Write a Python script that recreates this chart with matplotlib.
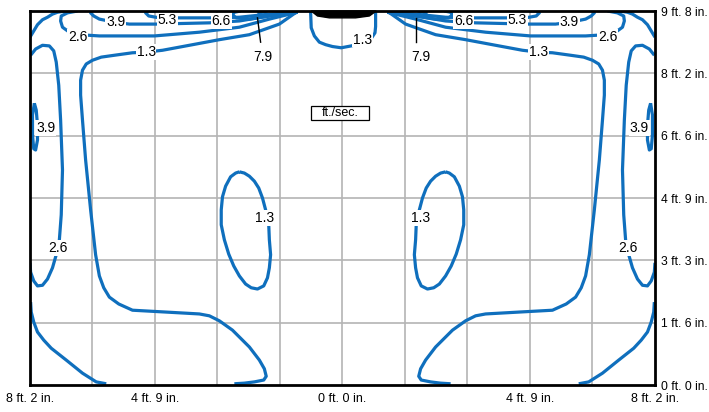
import numpy as np
import matplotlib.pyplot as plt
from matplotlib.patches import Rectangle

plt.rcParams['font.family'] = ['Liberation Sans', 'DejaVu Sans']

# tick labels (grid units: x -5..5, y 0..6)
x_ticks = [-5, -3, 0, 3, 5]
x_labels = ["8 ft. 2 in.", "4 ft. 9 in.", "0 ft. 0 in.", "4 ft. 9 in.", "8 ft. 2 in."]
y_ticks = [0, 1, 2, 3, 4, 5, 6]
y_labels = ["0 ft. 0 in.", "1 ft. 6 in.", "3 ft. 3 in.", "4 ft. 9 in.",
            "6 ft. 6 in.", "8 ft. 2 in.", "9 ft. 8 in."]

# contour lines of the left half (the right half is the mirror image)
corner_x = [-5.0, -4.94, -4.88, -4.8, -4.72, -4.64, -4.56, -4.43]
corner_y = [5.58, 5.68, 5.78, 5.86, 5.90, 5.95, 5.98, 6.0]

side26_x = [-4.99, -4.91, -4.8, -4.69, -4.62, -4.58, -4.54, -4.51, -4.48, -4.5,
            -4.53, -4.58, -4.64, -4.72, -4.8, -4.88, -4.94, -4.99, -5.0]
side26_y = [5.29, 5.39, 5.45, 5.44, 5.36, 5.18, 4.81, 4.25, 3.45, 2.73,
            2.33, 2.09, 1.88, 1.70, 1.60, 1.59, 1.67, 1.81, 1.96]

side39_x = [-4.93, -4.9, -4.88, -4.88, -4.91, -4.94, -4.96, -4.96, -4.93]
side39_y = [4.52, 4.41, 4.17, 3.93, 3.77, 3.79, 4.01, 4.33, 4.52]

big13_x = [-0.74, -1.01, -1.49, -1.97, -2.45, -2.88, -3.14, -3.36, -3.65, -3.86,
           -4.0, -4.10, -4.16, -4.19, -4.19, -4.16, -4.11, -4.03, -3.95, -3.89,
           -3.82, -3.73, -3.58, -3.36, -2.82, -2.29, -2.13, -1.97, -1.76, -1.49,
           -1.33, -1.25, -1.22, -1.26, -1.41, -1.57, -1.73]
big13_y = [5.98, 5.79, 5.62, 5.54, 5.45, 5.37, 5.34, 5.33, 5.29, 5.26,
           5.21, 5.15, 5.05, 4.89, 4.65, 4.25, 3.61, 2.81, 2.09, 1.75,
           1.56, 1.41, 1.30, 1.20, 1.17, 1.14, 1.11, 1.03, 0.88, 0.61,
           0.40, 0.26, 0.14, 0.08, 0.05, 0.03, 0.02]

bottom_x = [-4.99, -4.98, -4.94, -4.88, -4.78, -4.66, -4.42, -4.16, -3.94, -3.78]
bottom_y = [1.33, 1.17, 1.01, 0.85, 0.72, 0.59, 0.40, 0.19, 0.05, 0.02]

top26_x = [-4.24, -4.4, -4.5, -4.51, -4.48, -4.37, -4.21, -3.89, -3.01, -2.29, -1.65, -1.17, -0.72]
top26_y = [6.0, 5.97, 5.92, 5.84, 5.74, 5.66, 5.62, 5.60, 5.60, 5.66, 5.74, 5.87, 5.98]

top39_x = [-4.02, -4.03, -3.98, -3.89, -3.65, -3.41, -2.98, -2.13, -1.65, -1.17, -0.72]
top39_y = [6.0, 5.97, 5.92, 5.87, 5.82, 5.79, 5.79, 5.81, 5.84, 5.92, 5.98]

top53_x = [-2.99, -3.1, -3.15, -3.1, -2.93, -2.13, -1.65, -1.17, -0.72]
top53_y = [6.0, 6.0, 5.97, 5.92, 5.89, 5.89, 5.90, 5.95, 5.98]

top66_x = [-1.63, -1.73, -1.76, -1.70, -1.49, -1.17, -0.72]
top66_y = [6.0, 5.98, 5.94, 5.89, 5.87, 5.92, 5.98]

top79_x = [-1.2, -1.34, -1.30, -1.09, -0.72]
top79_y = [6.0, 5.97, 5.92, 5.94, 5.98]

oval13_x = [-1.65, -1.57, -1.49, -1.41, -1.34, -1.28, -1.23, -1.18, -1.17, -1.15,
            -1.17, -1.2, -1.26, -1.36, -1.46, -1.55, -1.65, -1.74, -1.82, -1.89,
            -1.94, -1.94, -1.92, -1.87, -1.79, -1.71, -1.65]
oval13_y = [3.42, 3.40, 3.35, 3.27, 3.16, 3.0, 2.81, 2.57, 2.33, 2.09,
            1.88, 1.72, 1.59, 1.54, 1.56, 1.62, 1.75, 1.91, 2.10, 2.33,
            2.57, 2.81, 3.02, 3.19, 3.34, 3.40, 3.42]

# labels of the left half: (text, x, y)
left_labels = [("2.6", -4.56, 2.2), ("3.9", -4.75, 4.12), ("1.3", -3.14, 5.34),
               ("2.6", -4.24, 5.58), ("3.9", -3.63, 5.82), ("5.3", -2.8, 5.85),
               ("6.6", -1.94, 5.84), ("1.3", -1.25, 2.68)]

# centre: outlet and the 1.3 line just below it
outlet_x = [-0.5, -0.4, -0.21, 0.21, 0.43, 0.54]
outlet_y = [6.0, 5.92, 5.89, 5.89, 5.92, 6.0]
mid13_x = [-0.51, -0.5, -0.45, -0.37, -0.27, -0.16, -0.02, 0.14, 0.35, 0.46, 0.52, 0.53, 0.53]
mid13_y = [5.98, 5.73, 5.60, 5.50, 5.46, 5.43, 5.41, 5.44, 5.50, 5.56, 5.65, 5.75, 5.97]

blue = '#0f6fbd'

fig = plt.figure(figsize=(7.09, 4.12), dpi=100)
ax = fig.add_axes([0.0423, 0.0655, 0.8815, 0.9078])
ax.set_xlim(-5, 5)
ax.set_ylim(0, 6)

for v in range(-4, 5):
    ax.axvline(v, color='#b4b4b4', lw=1.2, zorder=0)
for v in range(1, 6):
    ax.axhline(v, color='#b4b4b4', lw=1.2, zorder=0)

curves = [(corner_x, corner_y), (side26_x, side26_y), (side39_x, side39_y),
          (big13_x, big13_y), (bottom_x, bottom_y), (top26_x, top26_y),
          (top39_x, top39_y), (top53_x, top53_y), (top66_x, top66_y),
          (top79_x, top79_y), (oval13_x, oval13_y)]
for xs, ys in curves:
    xs = np.array(xs)
    ax.plot(xs, ys, color=blue, lw=2.3, solid_joinstyle='round', solid_capstyle='butt', zorder=2)
    ax.plot(-xs, ys, color=blue, lw=2.3, solid_joinstyle='round', solid_capstyle='butt', zorder=2)

ax.plot(mid13_x, mid13_y, color=blue, lw=2.3, solid_joinstyle='round', zorder=2)
ax.fill(outlet_x, outlet_y, color='black', zorder=4, clip_on=False)

lab_box = dict(facecolor='white', edgecolor='none', pad=0.5)
for t, x, y in left_labels:
    ax.text(x, y, t, ha='center', va='center', fontsize=10, bbox=lab_box, zorder=3)
    ax.text(-x, y, t, ha='center', va='center', fontsize=10, bbox=lab_box, zorder=3)
ax.text(0.32, 5.54, "1.3", ha='center', va='center', fontsize=10, bbox=lab_box, zorder=3)

# 7.9 leaders
ax.plot([-1.36, -1.31], [5.89, 5.50], color='black', lw=1, zorder=3)
ax.plot([1.18, 1.18], [5.89, 5.50], color='black', lw=1, zorder=3)
ax.text(-1.28, 5.26, "7.9", ha='center', va='center', fontsize=10, zorder=3)
ax.text(1.26, 5.26, "7.9", ha='center', va='center', fontsize=10, zorder=3)

# unit box
ax.add_patch(Rectangle((-0.5, 4.25), 0.92, 0.23, facecolor='white', edgecolor='black', lw=0.9, zorder=3))
ax.text(-0.04, 4.36, "ft./sec.", ha='center', va='center', fontsize=9, zorder=4)

ax.set_xticks(x_ticks)
ax.set_xticklabels(x_labels, fontsize=9)
ax.yaxis.tick_right()
ax.set_yticks(y_ticks)
ax.set_yticklabels(y_labels, fontsize=8.7)
ax.tick_params(axis='x', length=0, pad=6)
ax.tick_params(axis='y', length=0, pad=4.5)
for s in ax.spines.values():
    s.set_linewidth(2)
    s.set_zorder(5)

fig.savefig("out.png", dpi=100)
